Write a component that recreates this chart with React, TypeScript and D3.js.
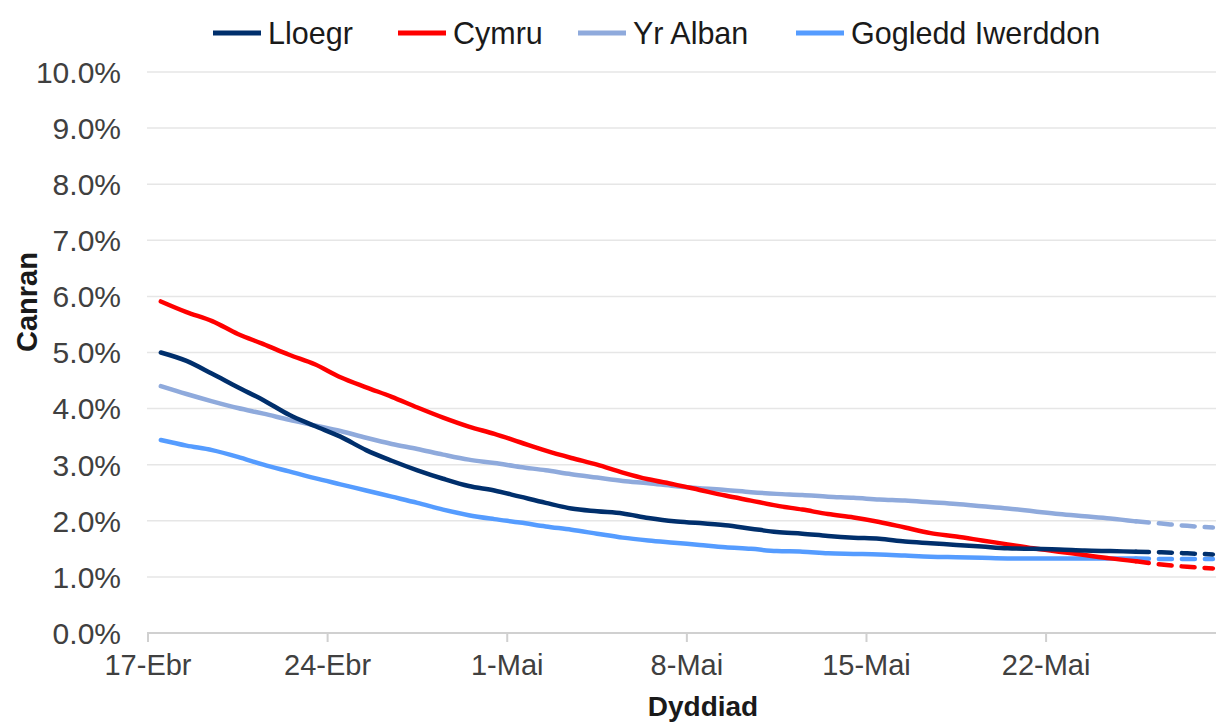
import { useEffect, useRef } from 'react';
import * as d3 from 'd3';

const seriesNames = ['Lloegr', 'Cymru', 'Yr Alban', 'Gogledd Iwerddon'];
const seriesColors = ['#002F6C', '#FF0000', '#8FAADC', '#559CFF'];

// daily values (%) from 17 Apr to 25 May
const lloegr = [5.0, 4.85, 4.62, 4.38, 4.15, 3.89, 3.69, 3.5, 3.26, 3.07, 2.9, 2.75, 2.62, 2.54, 2.43, 2.32, 2.22, 2.17, 2.13, 2.05, 1.99, 1.96, 1.92, 1.86, 1.8, 1.77, 1.73, 1.7, 1.68, 1.63, 1.6, 1.57, 1.54, 1.51, 1.5, 1.49, 1.47, 1.46, 1.45];
const cymru = [5.91, 5.72, 5.56, 5.33, 5.15, 4.96, 4.79, 4.56, 4.38, 4.21, 4.02, 3.84, 3.68, 3.55, 3.4, 3.25, 3.12, 3.0, 2.86, 2.74, 2.65, 2.55, 2.45, 2.36, 2.27, 2.2, 2.12, 2.06, 1.98, 1.88, 1.78, 1.72, 1.65, 1.58, 1.51, 1.45, 1.39, 1.33, 1.28];
const yrAlban = [4.4, 4.26, 4.13, 4.01, 3.91, 3.8, 3.7, 3.6, 3.48, 3.37, 3.28, 3.18, 3.09, 3.03, 2.96, 2.9, 2.83, 2.77, 2.71, 2.67, 2.62, 2.58, 2.55, 2.51, 2.48, 2.46, 2.43, 2.41, 2.38, 2.36, 2.33, 2.3, 2.26, 2.22, 2.17, 2.12, 2.08, 2.04, 1.99];
const gogledd = [3.44, 3.34, 3.26, 3.14, 3.0, 2.88, 2.76, 2.65, 2.54, 2.43, 2.32, 2.2, 2.1, 2.03, 1.97, 1.9, 1.84, 1.77, 1.7, 1.65, 1.61, 1.57, 1.53, 1.5, 1.46, 1.45, 1.42, 1.41, 1.4, 1.38, 1.36, 1.35, 1.34, 1.33, 1.33, 1.33, 1.33, 1.33, 1.33];

// dashed projection, 25 May to 28 May
const lloegrProj = [1.45, 1.44, 1.42, 1.4];
const cymruProj = [1.28, 1.22, 1.18, 1.15];
const yrAlbanProj = [1.99, 1.95, 1.91, 1.88];
const gogleddProj = [1.33, 1.32, 1.32, 1.32];

const startDate = new Date(2020, 3, 17);
const tickDates = [new Date(2020, 3, 17), new Date(2020, 3, 24), new Date(2020, 4, 1), new Date(2020, 4, 8), new Date(2020, 4, 15), new Date(2020, 4, 22)];
const tickLabels = ['17-Ebr', '24-Ebr', '1-Mai', '8-Mai', '15-Mai', '22-Mai'];
const yTicks = [0, 1, 2, 3, 4, 5, 6, 7, 8, 9, 10];

const W = 1216;
const H = 724;
const FONT = '"Liberation Sans", Arial, sans-serif';

const App = () => {
  const svgRef = useRef<SVGSVGElement | null>(null);

  useEffect(() => {
    if (!svgRef.current) return;
    const svg = d3.select(svgRef.current);
    svg.selectAll('*').remove();

    const x = d3.scaleTime()
      .domain([startDate, new Date(2020, 4, 29)])
      .range([148, 148 + 42 * 25.66]);
    const y = d3.scaleLinear().domain([0, 10]).range([633, 72]);

    const dayPos = (i: number) => x(d3.timeHour.offset(d3.timeDay.offset(startDate, i), 12));

    // gridlines
    svg.append('g')
      .selectAll('line')
      .data(yTicks.slice(1))
      .enter()
      .append('line')
      .attr('x1', 147)
      .attr('x2', W)
      .attr('y1', d => y(d))
      .attr('y2', d => y(d))
      .attr('stroke', '#E6E6E6')
      .attr('stroke-width', 1.5);

    // y labels
    svg.append('g')
      .selectAll('text')
      .data(yTicks)
      .enter()
      .append('text')
      .attr('x', 121)
      .attr('y', d => y(d))
      .attr('dy', '0.36em')
      .attr('text-anchor', 'end')
      .style('font-family', FONT)
      .style('font-size', '30px')
      .style('fill', '#404040')
      .text(d => `${d.toFixed(1)}%`);

    // x axis
    const xAxis = svg.append('g');
    xAxis.append('line')
      .attr('x1', 147)
      .attr('x2', W)
      .attr('y1', y(0))
      .attr('y2', y(0))
      .attr('stroke', '#D0D0D0')
      .attr('stroke-width', 2);
    xAxis.selectAll('line.tick')
      .data(tickDates)
      .enter()
      .append('line')
      .attr('class', 'tick')
      .attr('x1', d => x(d))
      .attr('x2', d => x(d))
      .attr('y1', y(0))
      .attr('y2', y(0) + 9)
      .attr('stroke', '#D0D0D0')
      .attr('stroke-width', 2);
    xAxis.selectAll('text')
      .data(tickDates)
      .enter()
      .append('text')
      .attr('x', d => x(d))
      .attr('y', 675)
      .attr('text-anchor', 'middle')
      .style('font-family', FONT)
      .style('font-size', '29px')
      .style('fill', '#404040')
      .text((_, i) => tickLabels[i]);

    // axis titles
    svg.append('text')
      .attr('x', 703)
      .attr('y', 716)
      .attr('text-anchor', 'middle')
      .style('font-family', FONT)
      .style('font-size', '28px')
      .style('font-weight', 'bold')
      .style('fill', '#1a1a1a')
      .text('Dyddiad');
    svg.append('text')
      .attr('transform', 'translate(37,302) rotate(-90)')
      .attr('text-anchor', 'middle')
      .style('font-family', FONT)
      .style('font-size', '29px')
      .style('font-weight', 'bold')
      .style('fill', '#1a1a1a')
      .text('Canran');

    const actual = [lloegr, cymru, yrAlban, gogledd];
    const proj = [lloegrProj, cymruProj, yrAlbanProj, gogleddProj];
    const projStart = lloegr.length - 1;

    const line = d3.line<number>()
      .x((_, i) => dayPos(i))
      .y(d => y(d))
      .curve(d3.curveMonotoneX);
    const projLine = d3.line<number>()
      .x((_, i) => dayPos(projStart + i))
      .y(d => y(d))
      .curve(d3.curveMonotoneX);

    // draw Lloegr on top, like the original
    const order = [3, 2, 1, 0];
    order.forEach(k => {
      svg.append('path')
        .datum(proj[k])
        .attr('fill', 'none')
        .attr('stroke', seriesColors[k])
        .attr('stroke-width', 4.5)
        .attr('stroke-linecap', 'round')
        .attr('stroke-dasharray', '13 10')
        .attr('d', projLine);
      svg.append('path')
        .datum(actual[k])
        .attr('fill', 'none')
        .attr('stroke', seriesColors[k])
        .attr('stroke-width', 4.5)
        .attr('stroke-linecap', 'round')
        .attr('stroke-linejoin', 'round')
        .attr('d', line);
    });

    // legend
    const legendX = [213, 398, 578, 796];
    const legend = svg.append('g');
    seriesNames.forEach((name, i) => {
      const row = legend.append('g').attr('transform', `translate(${legendX[i]},33)`);
      row.append('line')
        .attr('x1', 0)
        .attr('x2', 48)
        .attr('stroke', seriesColors[i])
        .attr('stroke-width', 5);
      row.append('text')
        .attr('x', 55)
        .attr('dy', '0.36em')
        .style('font-family', FONT)
        .style('font-size', '30.5px')
        .style('fill', '#1a1a1a')
        .text(name);
    });
  }, []);

  return (
    <svg
      ref={svgRef}
      width={W}
      height={H}
      style={{ position: 'absolute', left: 0, top: 0, background: '#fff' }}
    />
  );
};

export default App;
